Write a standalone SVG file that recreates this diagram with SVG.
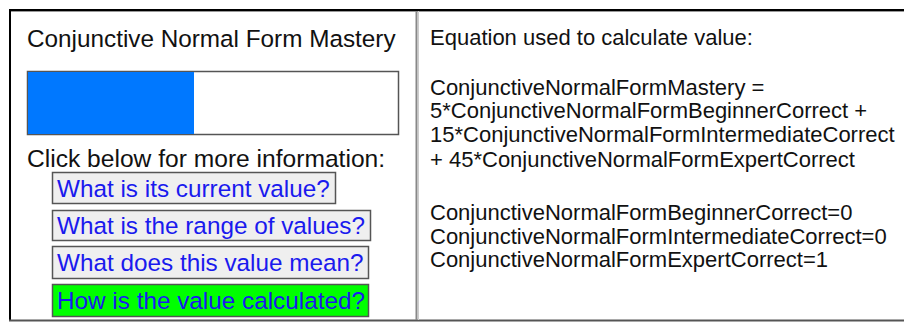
<svg xmlns="http://www.w3.org/2000/svg" width="904" height="322" viewBox="0 0 904 322">
  <style>
    .lbl { font-family: "Liberation Sans", Arial, sans-serif; fill: #111; }
    .title { font-size: 24.3px; }
    .hint { font-size: 24.6px; }
    .eq { font-size: 22px; }
    .btn rect { fill: #efefef; stroke: #555; stroke-width: 1.5; }
    .btn.active rect { fill: #00ff00; }
    .btn text { font-family: "Liberation Sans", Arial, sans-serif; font-size: 24.3px; fill: #1a1aee; }
  </style>

  <!-- page background -->
  <rect x="0" y="0" width="904" height="322" fill="#ffffff"/>

  <!-- outer frame and panel divider -->
  <g id="frame">
    <line x1="10" y1="10" x2="904" y2="10" stroke="#000" stroke-width="2"/>
    <line x1="10" y1="11.5" x2="904" y2="11.5" stroke="#999" stroke-width="1"/>
    <line x1="10" y1="9" x2="10" y2="321" stroke="#000" stroke-width="2"/>
    <line x1="9" y1="320.5" x2="904" y2="320.5" stroke="#555" stroke-width="2"/>
    <line x1="416.5" y1="11" x2="416.5" y2="320" stroke="#888" stroke-width="2"/>
    <line x1="418.5" y1="11" x2="418.5" y2="320" stroke="#ccc" stroke-width="1"/>
  </g>

  <!-- left panel: mastery meter -->
  <g id="mastery-panel">
    <text class="lbl title" x="27" y="47">Conjunctive Normal Form Mastery</text>
    <g id="progress-bar">
      <rect x="27.5" y="71.5" width="371" height="63" fill="#ffffff" stroke="#555" stroke-width="1.5"/>
      <rect x="28" y="72" width="166" height="62" fill="#0078ff"/>
    </g>
    <text class="lbl hint" x="27" y="167">Click below for more information:</text>
  </g>

  <g id="btn-current" class="btn">
    <rect x="52.5" y="172.5" width="283" height="31"/>
    <text x="57" y="196.5">What is its current value?</text>
  </g>
  <g id="btn-range" class="btn">
    <rect x="52.5" y="210.5" width="318" height="30"/>
    <text x="57" y="234">What is the range of values?</text>
  </g>
  <g id="btn-meaning" class="btn">
    <rect x="52.5" y="246.5" width="316" height="32"/>
    <text x="57" y="271">What does this value mean?</text>
  </g>
  <g id="btn-calculated" class="btn active">
    <rect x="52.5" y="284.5" width="316" height="32"/>
    <text x="57" y="309">How is the value calculated?</text>
  </g>

  <!-- right panel: equation -->
  <g id="equation-panel" class="lbl eq">
    <text x="430" y="45">Equation used to calculate value:</text>
    <text x="430" y="95">ConjunctiveNormalFormMastery =</text>
    <text x="430" y="118">5*ConjunctiveNormalFormBeginnerCorrect +</text>
    <text x="430" y="142">15*ConjunctiveNormalFormIntermediateCorrect</text>
    <text x="430" y="167">+ 45*ConjunctiveNormalFormExpertCorrect</text>
    <text x="430" y="220">ConjunctiveNormalFormBeginnerCorrect=0</text>
    <text x="430" y="244">ConjunctiveNormalFormIntermediateCorrect=0</text>
    <text x="430" y="267">ConjunctiveNormalFormExpertCorrect=1</text>
  </g>

  <!-- no connectors in this panel layout -->
  <g id="connectors"/>
</svg>
